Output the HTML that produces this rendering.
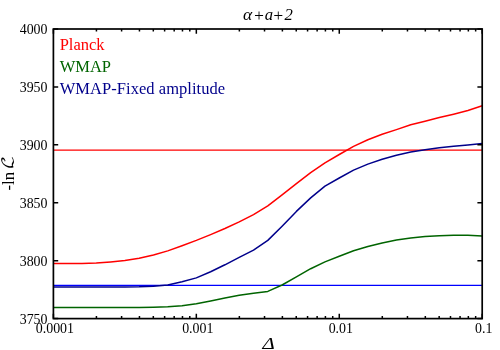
<!DOCTYPE html>
<html><head><meta charset="utf-8"><title>plot</title>
<style>
html,body{margin:0;padding:0;background:#fff;}
svg{display:block;will-change:transform;font-family:"Liberation Serif","DejaVu Serif",serif;}
.tk text{font-size:13.9px;fill:#000;}
.lg text{font-size:16.5px;}
</style></head><body>
<svg width="500" height="350" viewBox="0 0 500 350">
<rect width="500" height="350" fill="#fff"/>
<line x1="53.4" x2="482.2" y1="150.15" y2="150.15" stroke="#ff0000" stroke-width="1.3"/>
<line x1="53.4" x2="482.2" y1="285.4" y2="285.4" stroke="#0000ff" stroke-width="1.15"/>
<polyline points="53.40,263.6 67.69,263.6 81.99,263.5 96.28,263.0 110.57,261.9 124.87,260.5 139.16,258.3 153.45,255.0 167.75,250.9 182.04,245.7 196.33,240.4 210.63,234.6 224.92,228.5 239.21,221.9 253.51,214.6 267.80,205.9 282.09,194.9 296.39,183.7 310.68,172.6 324.97,162.9 339.27,154.5 353.56,146.4 367.85,139.8 382.15,134.3 396.44,129.6 410.73,124.8 425.03,121.3 439.32,117.6 453.61,114.2 467.91,110.5 482.20,105.8" fill="none" stroke="#ff0000" stroke-width="1.5" stroke-linejoin="round"/>
<polyline points="53.40,307.5 67.69,307.5 81.99,307.5 96.28,307.5 110.57,307.5 124.87,307.5 139.16,307.4 153.45,307.2 167.75,306.7 182.04,305.7 196.33,303.8 210.63,301.1 224.92,298.1 239.21,295.3 253.51,293.2 267.80,291.4 282.09,285.0 296.39,276.8 310.68,268.7 324.97,261.9 339.27,256.2 353.56,250.8 367.85,246.5 382.15,243.0 396.44,240.0 410.73,238.0 425.03,236.6 439.32,235.7 453.61,235.3 467.91,235.3 482.20,236.1" fill="none" stroke="#006400" stroke-width="1.5" stroke-linejoin="round"/>
<polyline points="53.40,287.0 67.69,287.0 81.99,287.0 96.28,287.0 110.57,287.0 124.87,286.9 139.16,286.8 153.45,286.2 167.75,285.0 182.04,281.8 196.33,277.9 210.63,271.7 224.92,264.8 239.21,257.4 253.51,250.2 267.80,240.4 282.09,226.2 296.39,211.4 310.68,197.9 324.97,186.1 339.27,178.0 353.56,170.1 367.85,164.1 382.15,159.3 396.44,155.3 410.73,152.1 425.03,149.7 439.32,147.8 453.61,146.3 467.91,144.9 482.20,143.4" fill="none" stroke="#00008b" stroke-width="1.5" stroke-linejoin="round"/>
<path d="M53.40 318.6 v-4.8 M53.40 29.0 v4.8 M96.43 318.6 v-2.6 M96.43 29.0 v2.6 M121.60 318.6 v-2.6 M121.60 29.0 v2.6 M139.45 318.6 v-2.6 M139.45 29.0 v2.6 M153.31 318.6 v-2.6 M153.31 29.0 v2.6 M164.62 318.6 v-2.6 M164.62 29.0 v2.6 M174.19 318.6 v-2.6 M174.19 29.0 v2.6 M182.48 318.6 v-2.6 M182.48 29.0 v2.6 M189.79 318.6 v-2.6 M189.79 29.0 v2.6 M196.33 318.6 v-4.8 M196.33 29.0 v4.8 M239.36 318.6 v-2.6 M239.36 29.0 v2.6 M264.53 318.6 v-2.6 M264.53 29.0 v2.6 M282.39 318.6 v-2.6 M282.39 29.0 v2.6 M296.24 318.6 v-2.6 M296.24 29.0 v2.6 M307.56 318.6 v-2.6 M307.56 29.0 v2.6 M317.13 318.6 v-2.6 M317.13 29.0 v2.6 M325.41 318.6 v-2.6 M325.41 29.0 v2.6 M332.73 318.6 v-2.6 M332.73 29.0 v2.6 M339.27 318.6 v-4.8 M339.27 29.0 v4.8 M382.29 318.6 v-2.6 M382.29 29.0 v2.6 M407.46 318.6 v-2.6 M407.46 29.0 v2.6 M425.32 318.6 v-2.6 M425.32 29.0 v2.6 M439.17 318.6 v-2.6 M439.17 29.0 v2.6 M450.49 318.6 v-2.6 M450.49 29.0 v2.6 M460.06 318.6 v-2.6 M460.06 29.0 v2.6 M468.35 318.6 v-2.6 M468.35 29.0 v2.6 M475.66 318.6 v-2.6 M475.66 29.0 v2.6 M482.20 318.6 v-4.8 M482.20 29.0 v4.8 M525.23 318.6 v-2.6 M525.23 29.0 v2.6 M550.40 318.6 v-2.6 M550.40 29.0 v2.6 M568.25 318.6 v-2.6 M568.25 29.0 v2.6 M582.11 318.6 v-2.6 M582.11 29.0 v2.6 M593.42 318.6 v-2.6 M593.42 29.0 v2.6 M602.99 318.6 v-2.6 M602.99 29.0 v2.6 M611.28 318.6 v-2.6 M611.28 29.0 v2.6 M618.59 318.6 v-2.6 M618.59 29.0 v2.6 M482.2 318.6 v-4.8 M482.2 29.0 v4.8 M53.4 318.60 h4.8 M482.2 318.60 h-4.8 M53.4 260.68 h4.8 M482.2 260.68 h-4.8 M53.4 202.76 h4.8 M482.2 202.76 h-4.8 M53.4 144.84 h4.8 M482.2 144.84 h-4.8 M53.4 86.92 h4.8 M482.2 86.92 h-4.8 M53.4 29.00 h4.8 M482.2 29.00 h-4.8" stroke="#000" stroke-width="1.5" fill="none"/>
<rect x="53.4" y="29.0" width="428.8" height="289.6" fill="none" stroke="#000" stroke-width="1.7"/>
<g class="tk"><text x="47.5" y="323.8" text-anchor="end">3750</text><text x="47.5" y="265.9" text-anchor="end">3800</text><text x="47.5" y="208.0" text-anchor="end">3850</text><text x="47.5" y="150.0" text-anchor="end">3900</text><text x="47.5" y="92.1" text-anchor="end">3950</text><text x="47.5" y="34.2" text-anchor="end">4000</text><text x="54.9" y="333.2" text-anchor="middle">0.0001</text><text x="197.8" y="333.2" text-anchor="middle">0.001</text><text x="340.8" y="333.2" text-anchor="middle">0.01</text><text x="483.7" y="333.2" text-anchor="middle">0.1</text></g>
<g class="lg">
<text x="59.7" y="49.6" fill="#ff0000">Planck</text>
<text x="59.7" y="71.7" fill="#006400">WMAP</text>
<text x="59.7" y="93.9" fill="#00008b" letter-spacing="0.05">WMAP-Fixed amplitude</text>
</g>
<g font-style="italic" font-size="16.67px" fill="#000">
<text x="242.9" y="20.2" font-size="17.6px">α</text><text x="253" y="21.2" font-size="17.4px">+</text><text x="264.8" y="20">a</text><text x="272.2" y="21.2" font-size="17.4px">+</text><text x="284.4" y="20">2</text>
</g>
<text transform="translate(262.6,348.6) scale(1.21,1)" x="0" y="0" font-style="italic" font-size="17.3px" fill="#000">Δ</text>
<g transform="translate(14,190.5) rotate(-90)" font-size="16.67px" fill="#000"><text x="0" y="0">-ln</text><text transform="translate(21.2,-1.0) scale(1.2,1.04)" x="0" y="0" font-family="'DejaVu Math TeX Gyre','DejaVu Sans',sans-serif" font-size="15px">ℒ</text></g>
</svg>
</body></html>
